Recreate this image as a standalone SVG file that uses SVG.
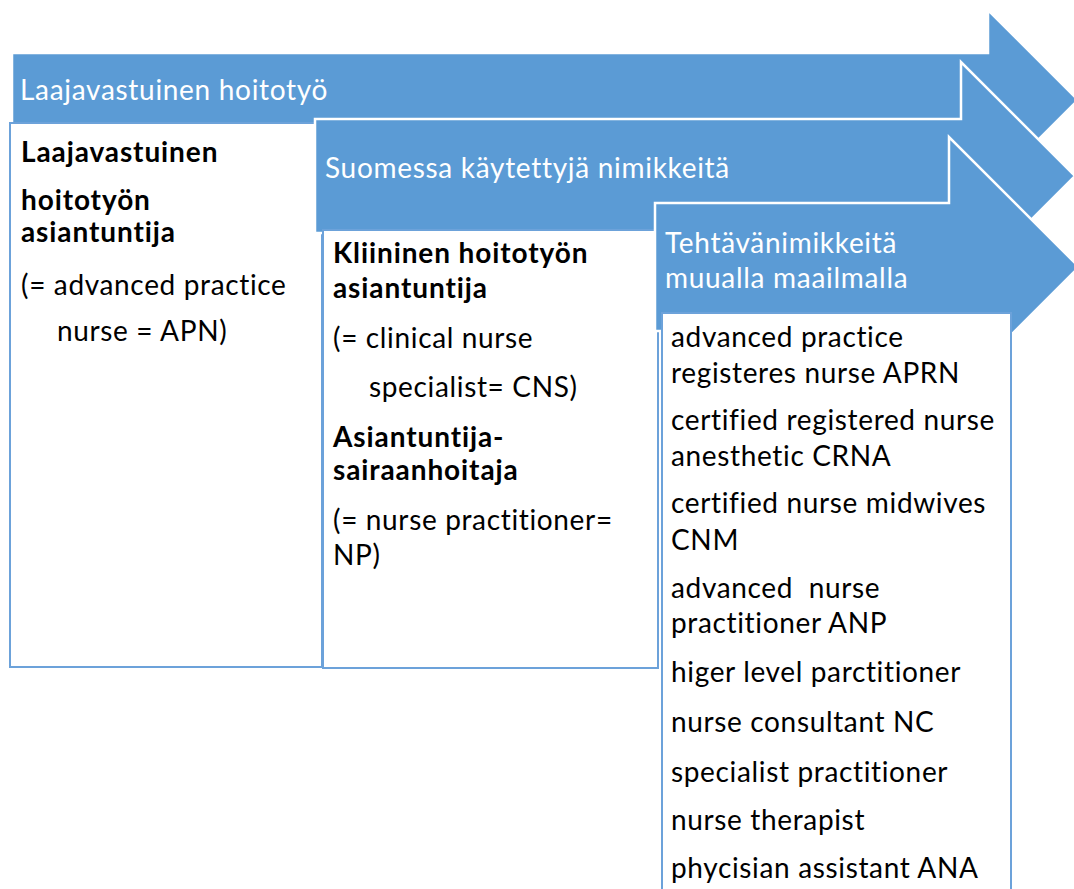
<svg xmlns="http://www.w3.org/2000/svg" width="1074" height="889" viewBox="0 0 1074 889">
<style>
.arrow{fill:#5B9BD5;stroke:#FFFFFF;stroke-width:2.5;stroke-linejoin:miter}
.box{fill:#FFFFFF;stroke:#6CA2DA;stroke-width:2}
.ht{font-family:Lato,"Liberation Sans",sans-serif;font-size:28px;fill:#FFFFFF;letter-spacing:0.7px;font-variant-ligatures:none}
.t{font-family:Lato,"Liberation Sans",sans-serif;font-size:28px;fill:#000000;letter-spacing:0.65px;font-variant-ligatures:none}
.b{font-weight:bold;letter-spacing:0.9px}
</style>
<rect width="1074" height="889" fill="#FFFFFF"/>
<g id="arrow1">
<polygon class="arrow" points="12,53 988,53 988,10 1078,100 988,190 988,147 12,147"/>
<text class="ht" x="20" y="100">Laajavastuinen hoitotyö</text>
</g>
<g id="box1">
<rect class="box" x="10" y="123" width="312" height="544"/>
<text class="t b" x="21" y="162">Laajavastuinen</text>
<text class="t b" x="21" y="210">hoitotyön</text>
<text class="t b" x="21" y="242">asiantuntija</text>
<text class="t" x="21" y="295">(= advanced practice</text>
<text class="t" x="57" y="341">nurse = APN)</text>
</g>
<g id="arrow2">
<polygon class="arrow" points="315,119 961,119 961,62 1075,176 961,290 961,233 315,233"/>
<text class="ht" x="325" y="178">Suomessa käytettyjä nimikkeitä</text>
</g>
<g id="box2">
<rect class="box" x="323" y="230" width="335" height="438"/>
<text class="t b" x="333" y="263">Kliininen hoitotyön</text>
<text class="t b" x="333" y="298">asiantuntija</text>
<text class="t" x="333" y="348">(= clinical nurse</text>
<text class="t" x="369" y="397">specialist= CNS)</text>
<text class="t b" x="333" y="447">Asiantuntija-</text>
<text class="t b" x="333" y="480">sairaanhoitaja</text>
<text class="t" x="333" y="530">(= nurse practitioner=</text>
<text class="t" x="333" y="565">NP)</text>
</g>
<g id="arrow3">
<polygon class="arrow" points="655,203 949,203 949,137 1079,267 949,397 949,331 655,331"/>
<text class="ht" x="665" y="253">Tehtävänimikkeitä</text>
<text class="ht" x="665" y="288">muualla maailmalla</text>
</g>
<g id="box3">
<rect class="box" x="662" y="313" width="349" height="600"/>
<text class="t" x="671" y="347">advanced practice</text>
<text class="t" x="671" y="383">registeres nurse APRN</text>
<text class="t" x="671" y="430">certified registered nurse</text>
<text class="t" x="671" y="466">anesthetic CRNA</text>
<text class="t" x="671" y="513">certified nurse midwives</text>
<text class="t" x="671" y="550">CNM</text>
<text class="t" x="671" y="598" xml:space="preserve">advanced  nurse</text>
<text class="t" x="671" y="633">practitioner ANP</text>
<text class="t" x="671" y="682">higer level parctitioner</text>
<text class="t" x="671" y="732">nurse consultant NC</text>
<text class="t" x="671" y="782">specialist practitioner</text>
<text class="t" x="671" y="830">nurse therapist</text>
<text class="t" x="671" y="878">phycisian assistant ANA</text>
</g>
<g id="connectors"/>
</svg>
